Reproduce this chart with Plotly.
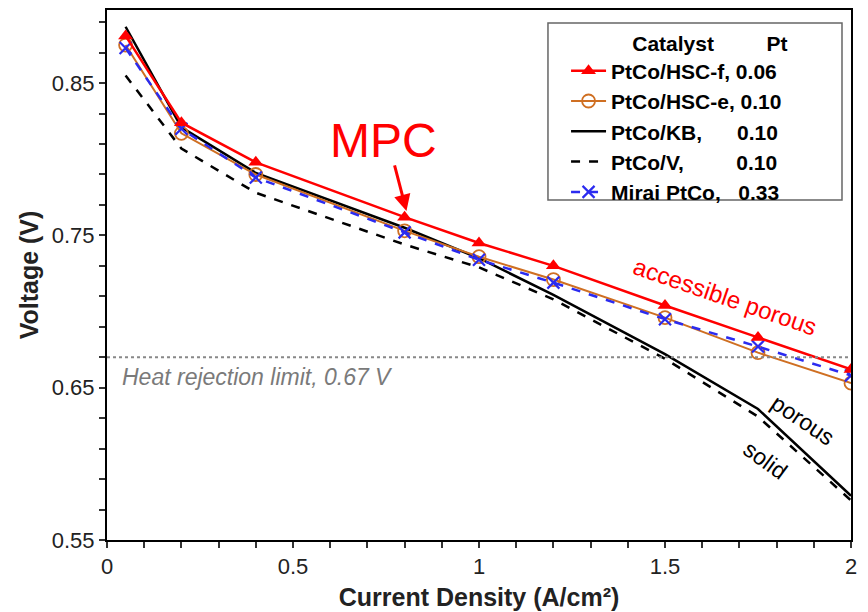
import plotly.graph_objects as go

# ---- data ----
current = [0.05, 0.2, 0.4, 0.8, 1.0, 1.2, 1.5, 1.75, 2.0]
hsc_f = [0.881, 0.824, 0.798, 0.762, 0.745, 0.730, 0.704, 0.683, 0.662]
hsc_e = [0.875, 0.817, 0.790, 0.753, 0.736, 0.721, 0.696, 0.673, 0.653]
kb = [0.887, 0.821, 0.791, 0.755, 0.735, 0.711, 0.672, 0.636, 0.579]
vulcan = [0.855, 0.807, 0.778, 0.744, 0.729, 0.708, 0.669, 0.631, 0.576]
mirai = [0.873, 0.820, 0.788, 0.752, 0.734, 0.719, 0.695, 0.677, 0.658]
HEAT_LIMIT = 0.67

NB = "\u00a0"
FONT = "Liberation Sans, Arial, sans-serif"
LEG = 21

fig = go.Figure()

# drawing order: bottom -> top ; legend order via legendrank
fig.add_trace(go.Scatter(x=current, y=vulcan, mode="lines",
                         name="<b>PtCo/V," + NB * 9 + "0.10</b>", legendrank=4,
                         line=dict(color="black", width=2.5, dash="dash")))
fig.add_trace(go.Scatter(x=current, y=kb, mode="lines",
                         name="<b>PtCo/KB," + NB * 6 + "0.10</b>", legendrank=3,
                         line=dict(color="black", width=2.5)))
fig.add_trace(go.Scatter(x=current, y=hsc_e, mode="lines+markers",
                         name="<b>PtCo/HSC-e, 0.10</b>", legendrank=2,
                         line=dict(color="#CF6F22", width=2),
                         marker=dict(symbol="circle-open", size=13, color="#CF6F22",
                                     line=dict(width=1.8))))
fig.add_trace(go.Scatter(x=current, y=mirai, mode="lines+markers",
                         name="<b>Mirai PtCo," + NB * 3 + "0.33</b>", legendrank=5,
                         line=dict(color="#2B2BF0", width=2.5, dash="dash"),
                         marker=dict(symbol="x-thin-open", size=12, color="#2B2BF0",
                                     line=dict(width=2.2, color="#2B2BF0"))))
fig.add_trace(go.Scatter(x=current, y=hsc_f, mode="lines+markers",
                         name="<b>PtCo/HSC-f, 0.06</b>", legendrank=1,
                         line=dict(color="#FF0000", width=2.5),
                         marker=dict(symbol="triangle-up", size=13, color="#FF0000")))

# heat rejection limit line
fig.add_shape(type="line", xref="x", yref="y", x0=0, x1=2, y0=HEAT_LIMIT, y1=HEAT_LIMIT,
              line=dict(color="#888888", width=2, dash="dot"))
# legend frame
fig.add_shape(type="rect", xref="paper", yref="paper", x0=0.5927, x1=0.9879,
              y0=0.6415, y1=0.9755, line=dict(color="#666", width=1.5),
              fillcolor="white", layer="above")

annos = [
    dict(x=0.035, y=0.657, text="<i>Heat rejection limit, 0.67 V</i>", showarrow=False,
         xanchor="left", font=dict(size=23, color="#7a7a7a", family=FONT)),
    dict(x=0.742, y=0.8126, text="MPC", showarrow=False,
         font=dict(size=48, color="#FF0000", family=FONT)),
    dict(x=0.805, y=0.766, ax=0.772, ay=0.797, axref="x", ayref="y", text="",
         showarrow=True, arrowhead=2, arrowsize=1.1, arrowwidth=3, arrowcolor="#FF0000"),
    dict(x=1.661, y=0.7097, text="accessible porous", showarrow=False, textangle=19,
         font=dict(size=24, color="#FF0000", family=FONT)),
    dict(x=1.871, y=0.629, text="porous", showarrow=False, textangle=34,
         font=dict(size=23, color="black", family=FONT)),
    dict(x=1.769, y=0.6028, text="solid", showarrow=False, textangle=36,
         font=dict(size=23, color="black", family=FONT)),
]
for a in annos:
    fig.add_annotation(**a)

fig.update_layout(
    width=868, height=612,
    margin=dict(l=107, r=17, t=10, b=72),
    paper_bgcolor="white", plot_bgcolor="white",
    font=dict(family=FONT, size=22, color="#222"),
    showlegend=True,
    legend=dict(x=0.617, y=0.975, xanchor="left", yanchor="top",
                bgcolor="rgba(0,0,0,0)", borderwidth=0,
                font=dict(size=LEG, color="black", family=FONT),
                title=dict(text="<b>" + NB * 11 + "Catalyst" + NB * 9 + "Pt</b>",
                           font=dict(size=LEG, color="black", family=FONT)),
                tracegroupgap=0, itemwidth=35),
)
fig.update_xaxes(range=[0, 2], tickmode="linear", tick0=0, dtick=0.5,
                 automargin=False,
                 ticks="outside", ticklen=6, tickwidth=1.5, tickcolor="#333",
                 ticklabelstandoff=0,
                 minor=dict(dtick=0.1, ticks="outside", ticklen=6, tickwidth=1.5, tickcolor="#333"),
                 showline=True, linecolor="black", linewidth=2, mirror=True,
                 showgrid=False, zeroline=False,
                 tickfont=dict(size=22, color="#222"),
                 title=dict(text="<b>Current Density (A/cm²)</b>", font=dict(size=25, color="#222"),
                            standoff=10))
fig.update_yaxes(range=[0.55, 0.898], tickmode="linear", tick0=0.55, dtick=0.1,
                 tickformat=".2f", automargin=False,
                 ticks="outside", ticklen=6, tickwidth=1.5, tickcolor="#333",
                 minor=dict(dtick=0.02, tick0=0.55, ticks="outside", ticklen=6, tickwidth=1.5,
                            tickcolor="#333"),
                 showline=True, linecolor="black", linewidth=2, mirror=True,
                 showgrid=False, zeroline=False,
                 tickfont=dict(size=22, color="#222"),
                 title=dict(text="<b>Voltage (V)</b>", font=dict(size=25, color="#222"),
                            standoff=6))

fig.write_html("out.html")
